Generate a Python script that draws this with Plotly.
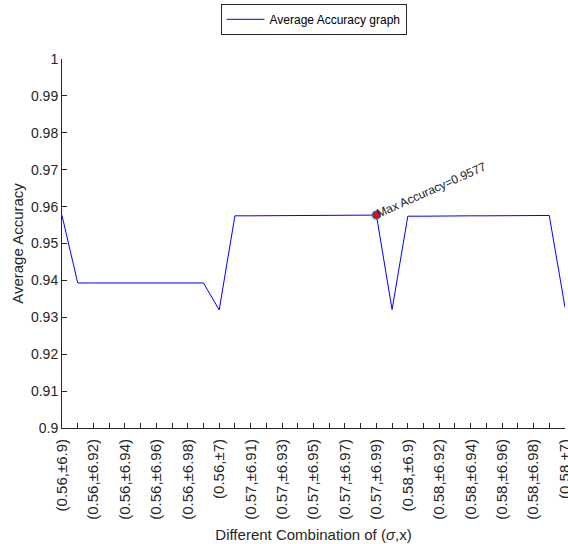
import plotly.graph_objects as go

sigmas = ["0.56"] * 11 + ["0.57"] * 11 + ["0.58"] * 11
xs = ["6.9", "6.91", "6.92", "6.93", "6.94", "6.95", "6.96", "6.97", "6.98", "6.99", "7"] * 3
categories = [f"({s},\u00b1{x})" for s, x in zip(sigmas, xs)]

accuracy = [0.9576, 0.9393, 0.9393, 0.9393, 0.9394, 0.9394, 0.9394, 0.9394, 0.9394, 0.9393, 0.9320,
            0.9575, 0.9575, 0.9575, 0.9576, 0.9576, 0.9576, 0.9576, 0.9576, 0.95765, 0.9577,
            0.9321, 0.9574, 0.9574, 0.9575, 0.9575, 0.9575, 0.9575, 0.9575, 0.9576, 0.9576, 0.9576,
            0.9327]

y_ticks = [0.9, 0.91, 0.92, 0.93, 0.94, 0.95, 0.96, 0.97, 0.98, 0.99, 1]
y_ticklabels = ["0.9", "0.91", "0.92", "0.93", "0.94", "0.95", "0.96", "0.97", "0.98", "0.99", "1"]

idx = list(range(len(categories)))
max_i = max(idx, key=lambda i: accuracy[i])
max_val = accuracy[max_i]

axis_col = "#262626"
font = "Liberation Sans, Arial, sans-serif"

fig = go.Figure()
fig.add_trace(go.Scatter(
    x=idx, y=accuracy, mode="lines", name="Average Accuracy graph",
    line=dict(color="#0000FF", width=1),
))
fig.add_trace(go.Scatter(
    x=[max_i], y=[max_val], mode="markers", showlegend=False,
    marker=dict(color="#FF0000", size=8, line=dict(color="#1f6fd0", width=1.2)),
))

fig.add_annotation(
    x=max_i, y=max_val, xref="x", yref="y",
    text=f"Max Accuracy={max_val:.4f}", showarrow=False,
    textangle=-24, xanchor="center", yanchor="middle",
    xshift=55, yshift=25,
    font=dict(family=font, size=12, color="#1a1a1a"),
)

fig.update_layout(
    width=568, height=544,
    margin=dict(l=62, r=3, t=59, b=116, autoexpand=False),
    paper_bgcolor="white", plot_bgcolor="white",
    font=dict(family=font, size=14, color=axis_col),
    showlegend=True,
    legend=dict(
        x=0.5, xanchor="center", y=1.1496, yanchor="top",
        bordercolor=axis_col, borderwidth=1, bgcolor="white",
        font=dict(family=font, size=12, color="#000000"),
        itemwidth=38,
    ),
    xaxis=dict(
        range=[0, 32], tickmode="array",
        tickvals=idx[::2], ticktext=categories[::2],
        tickangle=-90, ticks="inside", ticklen=5, tickcolor=axis_col,
        ticklabelstandoff=4, ticklabeloverflow="allow", automargin=False,
        minor=dict(dtick=1, tick0=0, ticks="inside", ticklen=5, tickcolor=axis_col),
        showline=True, linecolor=axis_col, linewidth=1,
        showgrid=False, zeroline=False,
        tickfont=dict(family=font, size=15, color=axis_col),
        title=dict(text="Different Combination of (<i>\u03c3</i>,x)",
                   font=dict(family=font, size=15, color=axis_col), standoff=10),
    ),
    yaxis=dict(
        range=[0.9, 1], tickmode="array", tickvals=y_ticks, ticktext=y_ticklabels,
        ticks="inside", ticklen=5, tickcolor=axis_col, automargin=False,
        showline=True, linecolor=axis_col, linewidth=1,
        showgrid=False, zeroline=False,
        tickfont=dict(family=font, size=14, color=axis_col),
        title=dict(text="Average Accuracy",
                   font=dict(family=font, size=15, color=axis_col), standoff=3),
    ),
)

fig.write_html("out.html")
